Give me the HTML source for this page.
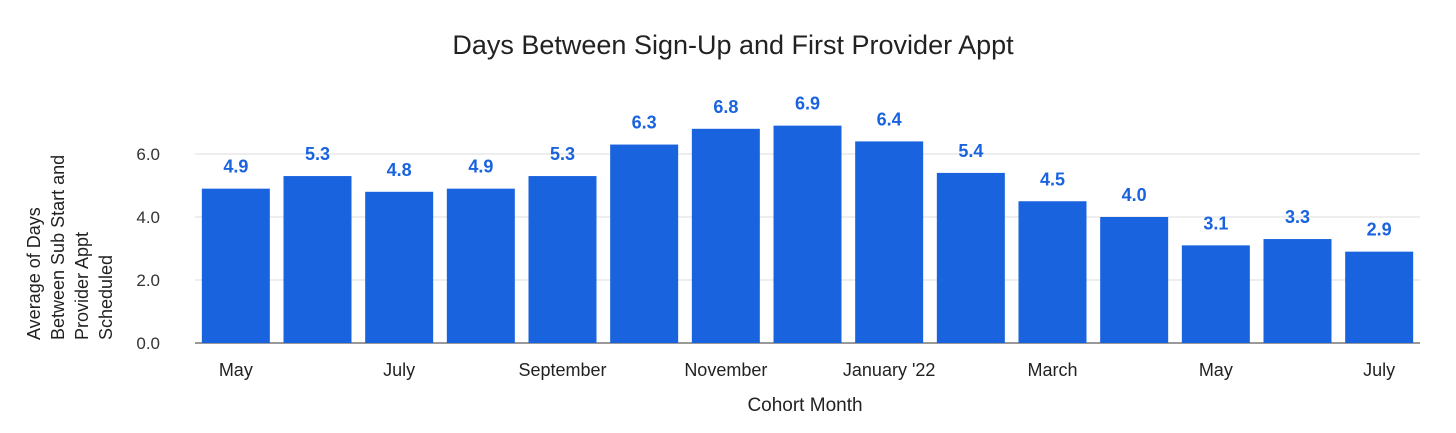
<!DOCTYPE html>
<html><head><meta charset="utf-8"><style>
body{margin:0;background:#fff;font-family:"Liberation Sans",Arial,sans-serif}
</style></head><body>
<svg width="1456" height="428" xmlns="http://www.w3.org/2000/svg" font-family="Liberation Sans, Arial, sans-serif">
<text x="733" y="54" text-anchor="middle" font-size="27" fill="#222">Days Between Sign-Up and First Provider Appt</text>
<g id="grid"></g><g id="bars"></g><g id="labels"></g>
<text x="805" y="411" text-anchor="middle" font-size="19" fill="#222">Cohort Month</text>
<g transform="translate(0,0)" font-size="18" fill="#222">
<text transform="translate(40,340) rotate(-90)">Average of Days</text>
<text transform="translate(64,340) rotate(-90)">Between Sub Start and</text>
<text transform="translate(88,340) rotate(-90)">Provider Appt</text>
<text transform="translate(112,340) rotate(-90)">Scheduled</text>
</g>
</svg>
<script>
const categories=["May","Jun","July","Aug","September","Oct","November","Dec","January '22","Feb","March","Apr","May","Jun","July"];
const showLabel=[true,false,true,false,true,false,true,false,true,false,true,false,true,false,true];
const values=[4.9,5.3,4.8,4.9,5.3,6.3,6.8,6.9,6.4,5.4,4.5,4.0,3.1,3.3,2.9];
const yTicks=[0,2,4,6];
const NS="http://www.w3.org/2000/svg";
const x0=195,x1=1420,y0=343,pxPer=31.5;
const band=(x1-x0)/categories.length,bw=68;
const y=v=>y0-v*pxPer;
const xc=i=>x0+band*(i+0.5);
function mk(t,a,p){const e=document.createElementNS(NS,t);for(const k in a)e.setAttribute(k,a[k]);p.appendChild(e);return e;}
const grid=document.getElementById('grid'),bars=document.getElementById('bars'),labels=document.getElementById('labels');
yTicks.forEach(t=>{
 const l=mk('line',{x1:x0,x2:x1,y1:y(t),y2:y(t),stroke:t===0?'#333':'#ddd','stroke-width':1},grid);
 
 
 const tx=mk('text',{x:160,y:y(t)+6,'text-anchor':'end','font-size':17,fill:'#333'},grid);
 tx.textContent=t.toFixed(1);
 
 
});
values.forEach((v,i)=>{
 const r=mk('rect',{x:xc(i)-bw/2,y:y(v),width:bw,height:v*pxPer,fill:'#1a63df'},bars);
 
 
 const t=mk('text',{x:xc(i),y:y(v)-16,'text-anchor':'middle','font-size':18,'font-weight':'bold',fill:'#1a63df'},labels);
 t.textContent=v.toFixed(1);
 
 
 if(showLabel[i]){
  const c=mk('text',{x:xc(i),y:376,'text-anchor':'middle','font-size':18,fill:'#222'},labels);
  c.textContent=categories[i];
  
  
 }
});
</script>
</body></html>
